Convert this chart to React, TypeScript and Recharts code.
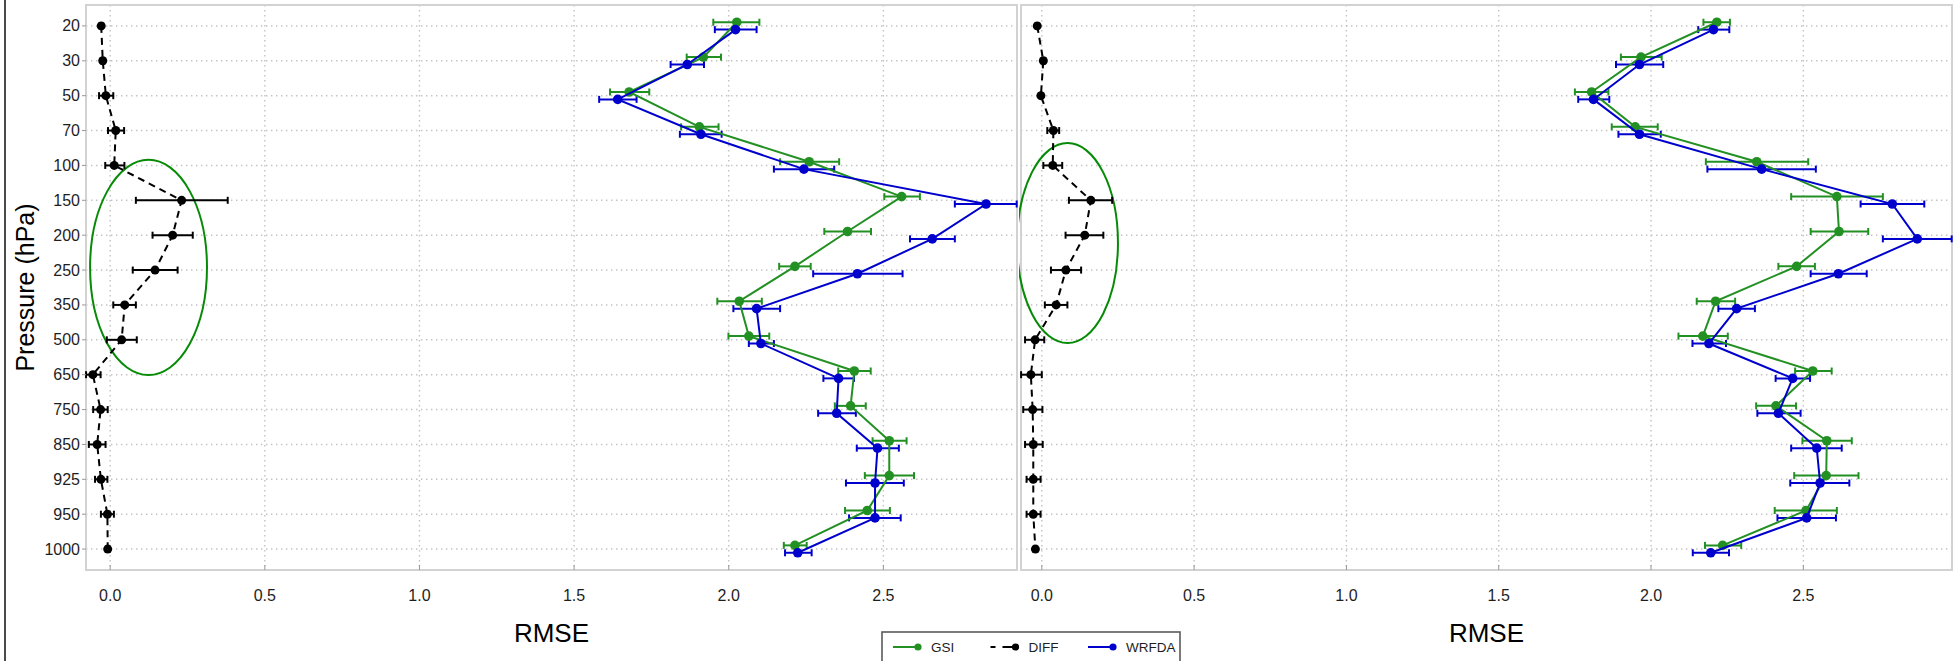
import React from 'react';
import {
  ScatterChart,
  Scatter,
  XAxis,
  YAxis,
  CartesianGrid,
  ErrorBar,
  ReferenceArea,
  Label,
} from 'recharts';

// ---------- data ----------
const LEVELS = ['20', '30', '50', '70', '100', '150', '200', '250', '350', '500', '650', '750', '850', '925', '950', '1000'];
const X_TICKS = [0, 0.5, 1, 1.5, 2, 2.5];

// left panel
const GSI_L = [2.026, 1.918, 1.678, 1.905, 2.26, 2.559, 2.384, 2.214, 2.034, 2.065, 2.406, 2.394, 2.519, 2.519, 2.448, 2.214];
const GSI_L_LO = [1.95, 1.864, 1.616, 1.846, 2.166, 2.503, 2.309, 2.163, 1.963, 1.999, 2.354, 2.343, 2.465, 2.44, 2.376, 2.178];
const GSI_L_HI = [2.099, 1.975, 1.743, 1.967, 2.357, 2.618, 2.46, 2.265, 2.107, 2.131, 2.459, 2.443, 2.575, 2.599, 2.521, 2.252];
const WRF_L = [2.022, 1.866, 1.641, 1.91, 2.243, 2.832, 2.658, 2.416, 2.09, 2.104, 2.355, 2.349, 2.481, 2.473, 2.473, 2.223];
const WRF_L_LO = [1.955, 1.812, 1.581, 1.842, 2.146, 2.731, 2.586, 2.273, 2.015, 2.065, 2.306, 2.289, 2.414, 2.379, 2.389, 2.182];
const WRF_L_HI = [2.09, 1.92, 1.702, 1.977, 2.341, 2.931, 2.731, 2.562, 2.166, 2.146, 2.405, 2.411, 2.55, 2.566, 2.556, 2.268];
const DIFF_L = [-0.029, -0.024, -0.014, 0.018, 0.013, 0.231, 0.202, 0.145, 0.047, 0.037, -0.056, -0.031, -0.042, -0.03, -0.009, -0.008];
const DIFF_L_LO = [-0.035, -0.03, -0.036, -0.007, -0.016, 0.083, 0.137, 0.073, 0.01, -0.011, -0.078, -0.055, -0.069, -0.049, -0.03, -0.014];
const DIFF_L_HI = [-0.023, -0.018, 0.01, 0.045, 0.046, 0.38, 0.267, 0.218, 0.083, 0.086, -0.031, -0.008, -0.015, -0.009, 0.012, -0.002];

// right panel
const GSI_R = [2.216, 1.967, 1.805, 1.948, 2.347, 2.61, 2.617, 2.478, 2.212, 2.17, 2.531, 2.41, 2.577, 2.575, 2.509, 2.235];
const GSI_R_LO = [2.172, 1.901, 1.75, 1.871, 2.18, 2.46, 2.524, 2.418, 2.15, 2.09, 2.473, 2.345, 2.497, 2.47, 2.406, 2.177];
const GSI_R_HI = [2.259, 2.035, 1.86, 2.022, 2.516, 2.761, 2.713, 2.538, 2.276, 2.252, 2.593, 2.476, 2.659, 2.681, 2.61, 2.296];
const WRF_R = [2.205, 1.962, 1.811, 1.962, 2.363, 2.792, 2.874, 2.615, 2.281, 2.19, 2.465, 2.418, 2.544, 2.555, 2.511, 2.196];
const WRF_R_LO = [2.155, 1.885, 1.761, 1.893, 2.185, 2.688, 2.761, 2.524, 2.221, 2.136, 2.409, 2.349, 2.46, 2.457, 2.415, 2.137];
const WRF_R_HI = [2.257, 2.04, 1.863, 2.032, 2.541, 2.897, 2.987, 2.708, 2.341, 2.246, 2.522, 2.491, 2.626, 2.651, 2.607, 2.256];
const DIFF_R = [-0.015, 0.005, -0.003, 0.038, 0.036, 0.161, 0.141, 0.079, 0.047, -0.022, -0.036, -0.03, -0.028, -0.028, -0.028, -0.021];
const DIFF_R_LO = [-0.021, -0.001, -0.009, 0.018, 0.005, 0.089, 0.078, 0.03, 0.01, -0.055, -0.068, -0.061, -0.055, -0.05, -0.05, -0.027];
const DIFF_R_HI = [-0.009, 0.011, 0.003, 0.057, 0.067, 0.231, 0.202, 0.129, 0.084, 0.008, 0.0, 0.002, 0.003, -0.004, -0.004, -0.015];

// annotation ellipses (data units: x = RMSE, y = level index)
const ELLIPSE_L = { x1: -0.065, x2: 0.313, y1: 3.84, y2: 10.01 };
const ELLIPSE_R = { x1: -0.081, x2: 0.25, y1: 3.36, y2: 9.09 };

const SERIES_NAMES = ['GSI', 'DIFF', 'WRFDA'];

// ---------- styling ----------
const FONT = '"Liberation Sans", Arial, Helvetica, sans-serif';
const H = 661;
const Y_DOMAIN: [number, number] = [-0.6, 15.6];
const ROW_SHIFT = 0.106;
const LEVEL_IDX = LEVELS.map((_, i) => i);
const COLORS: Record<string, string> = {
  GSI: '#239023',
  DIFF: '#000000',
  WRFDA: '#0000cd',
  ELLIPSE: '#078b07',
  GRID: '#c2c2c2',
  BOX: '#d2d2d2',
  TICK: '#999999',
  TEXT: '#1e1e1e',
};

type Pt = { x: number; y: number; e: [number, number] };
const build = (v: number[], lo: number[], hi: number[]): Pt[] =>
  v.map((val, i) => ({ x: val, y: i, e: [val - lo[i], hi[i] - val] }));

const dot = (color: string, r: number) => (p: any) =>
  <circle cx={p.cx} cy={p.cy} r={r} fill={color} />;

const XTick = (p: any) => (
  <g>
    <line x1={p.x} x2={p.x} y1={p.y - 5} y2={p.y} stroke={COLORS.TICK} strokeWidth={1} />
    <text x={p.x} y={p.y + 31} textAnchor="middle" fontSize={16} fill={COLORS.TEXT} fontFamily={FONT}>
      {Number(p.payload.value).toFixed(1)}
    </text>
  </g>
);

const YTick = (p: any) => (
  <g>
    <line x1={86 - 4} x2={86} y1={p.y} y2={p.y} stroke={COLORS.TICK} strokeWidth={1} />
    <text x={80} y={p.y} dy={5.5} textAnchor="end" fontSize={16} fill={COLORS.TEXT} fontFamily={FONT}>
      {LEVELS[p.payload.value]}
    </text>
  </g>
);

const RmseLabel = (p: any) => {
  const vb = p.viewBox || {};
  return (
    <text x={vb.x + vb.width / 2} y={vb.y + 72} textAnchor="middle" fontSize={26} fill="#000" fontFamily={FONT}>
      RMSE
    </text>
  );
};

const PressureLabel = (p: any) => {
  const vb = p.viewBox || {};
  const x = 34;
  const y = vb.y + vb.height / 2;
  return (
    <text x={x} y={y} transform={`rotate(-90 ${x} ${y})`} textAnchor="middle" fontSize={25} fill="#000" fontFamily={FONT}>
      Pressure (hPa)
    </text>
  );
};

const EllipseShape = (p: any) => {
  const w = Math.abs(p.width);
  const h = Math.abs(p.height);
  const x = Math.min(p.x, p.x + p.width);
  const y = Math.min(p.y, p.y + p.height);
  return (
    <ellipse cx={x + w / 2} cy={y + h / 2} rx={w / 2} ry={h / 2} fill="none" stroke={COLORS.ELLIPSE} strokeWidth={2} />
  );
};

type PanelProps = {
  left: number;
  width: number;
  margin: { top: number; right: number; bottom: number; left: number };
  xDomain: [number, number];
  showY: boolean;
  gsi: Pt[];
  diff: Pt[];
  wrf: Pt[];
  ellipse: { x1: number; x2: number; y1: number; y2: number };
};

function Panel({ left, width, margin, xDomain, showY, gsi, diff, wrf, ellipse }: PanelProps) {
  return (
    <div style={{ position: 'absolute', left, top: 0 }}>
      <ScatterChart width={width} height={H} margin={margin} style={{ fontFamily: FONT }}>
        <CartesianGrid yAxisId="m" stroke={COLORS.GRID} strokeDasharray="1.4 3.6" strokeWidth={1.4} />
        <XAxis
          type="number"
          dataKey="x"
          domain={xDomain}
          allowDataOverflow
          ticks={X_TICKS}
          interval={0}
          height={91}
          axisLine={false}
          tickLine={false}
          tickSize={0}
          tickMargin={0}
          tick={XTick}
        >
          <Label content={RmseLabel} />
        </XAxis>
        <YAxis
          yAxisId="m"
          type="number"
          dataKey="y"
          domain={Y_DOMAIN}
          reversed
          allowDataOverflow
          ticks={LEVEL_IDX}
          interval={0}
          hide={!showY}
          width={showY ? 86 : 0}
          axisLine={false}
          tickLine={false}
          tickSize={0}
          tickMargin={0}
          tick={YTick}
        >
          {showY ? <Label content={PressureLabel} /> : null}
        </YAxis>
        <YAxis
          yAxisId="g"
          type="number"
          dataKey="y"
          orientation="right"
          width={0}
          domain={[Y_DOMAIN[0] + ROW_SHIFT, Y_DOMAIN[1] + ROW_SHIFT]}
          reversed
          allowDataOverflow
          hide
        />
        <YAxis
          yAxisId="w"
          type="number"
          dataKey="y"
          orientation="right"
          width={0}
          domain={[Y_DOMAIN[0] - ROW_SHIFT, Y_DOMAIN[1] - ROW_SHIFT]}
          reversed
          allowDataOverflow
          hide
        />
        <ReferenceArea
          yAxisId="m"
          x1={xDomain[0]}
          x2={xDomain[1]}
          y1={Y_DOMAIN[0]}
          y2={Y_DOMAIN[1]}
          fill="none"
          fillOpacity={0}
          stroke={COLORS.BOX}
          strokeWidth={2}
          ifOverflow="visible"
        />
        <Scatter
          name="GSI"
          yAxisId="g"
          data={gsi}
          line={{ stroke: COLORS.GSI, strokeWidth: 2 }}
          lineType="joint"
          shape={dot(COLORS.GSI, 4.8)}
          isAnimationActive={false}
        >
          <ErrorBar dataKey="e" direction="x" width={3.5} stroke={COLORS.GSI} strokeWidth={2} />
        </Scatter>
        <Scatter
          name="WRFDA"
          yAxisId="w"
          data={wrf}
          line={{ stroke: COLORS.WRFDA, strokeWidth: 2 }}
          lineType="joint"
          shape={dot(COLORS.WRFDA, 4.8)}
          isAnimationActive={false}
        >
          <ErrorBar dataKey="e" direction="x" width={3.5} stroke={COLORS.WRFDA} strokeWidth={2} />
        </Scatter>
        <Scatter
          name="DIFF"
          yAxisId="m"
          data={diff}
          line={{ stroke: COLORS.DIFF, strokeWidth: 2, strokeDasharray: '7 5' }}
          lineType="joint"
          shape={dot(COLORS.DIFF, 4.5)}
          isAnimationActive={false}
        >
          <ErrorBar dataKey="e" direction="x" width={3.5} stroke={COLORS.DIFF} strokeWidth={2} />
        </Scatter>
        <ReferenceArea
          yAxisId="m"
          x1={ellipse.x1}
          x2={ellipse.x2}
          y1={ellipse.y1}
          y2={ellipse.y2}
          ifOverflow="visible"
          shape={EllipseShape}
        />
      </ScatterChart>
    </div>
  );
}

function LegendBox() {
  return (
    <svg
      width={300}
      height={30}
      style={{ position: 'absolute', left: 881, top: 631, overflow: 'hidden' }}
    >
      <rect x={1} y={1} width={298} height={60} fill="#fff" stroke="#5a5a5a" strokeWidth={1.6} />
      {SERIES_NAMES.map((name, i) => {
        const x0 = 12 + i * 97.5;
        const cy = 16;
        const color = COLORS[name];
        return (
          <g key={name}>
            <line
              x1={x0}
              x2={x0 + 25}
              y1={cy}
              y2={cy}
              stroke={color}
              strokeWidth={2}
              strokeDasharray={name === 'DIFF' ? '5 7 14' : undefined}
            />
            <circle cx={x0 + 25} cy={cy} r={3.6} fill={color} />
            <text x={x0 + 38} y={cy + 5} fontSize={13.5} fill={COLORS.TEXT} fontFamily={FONT}>
              {name}
            </text>
          </g>
        );
      })}
    </svg>
  );
}

export default function App() {
  const gsiL = build(GSI_L, GSI_L_LO, GSI_L_HI);
  const wrfL = build(WRF_L, WRF_L_LO, WRF_L_HI);
  const diffL = build(DIFF_L, DIFF_L_LO, DIFF_L_HI);
  const gsiR = build(GSI_R, GSI_R_LO, GSI_R_HI);
  const wrfR = build(WRF_R, WRF_R_LO, WRF_R_HI);
  const diffR = build(DIFF_R, DIFF_R_LO, DIFF_R_HI);
  return (
    <div
      style={{
        position: 'absolute',
        left: 0,
        top: 0,
        width: 1955,
        height: H,
        overflow: 'hidden',
        background: '#fff',
        fontFamily: FONT,
      }}
    >
      <div style={{ position: 'absolute', left: 4, top: 0, width: 2, height: H, background: '#4a4a4a' }} />
      <Panel
        left={0}
        width={1019}
        margin={{ top: 5, right: 2, bottom: 0, left: 0 }}
        xDomain={[-0.0782, 2.932]}
        showY
        gsi={gsiL}
        diff={diffL}
        wrf={wrfL}
        ellipse={ELLIPSE_L}
      />
      <Panel
        left={1019}
        width={936}
        margin={{ top: 5, right: 3, bottom: 0, left: 2 }}
        xDomain={[-0.0683, 2.988]}
        showY={false}
        gsi={gsiR}
        diff={diffR}
        wrf={wrfR}
        ellipse={ELLIPSE_R}
      />
      <LegendBox />
    </div>
  );
}
